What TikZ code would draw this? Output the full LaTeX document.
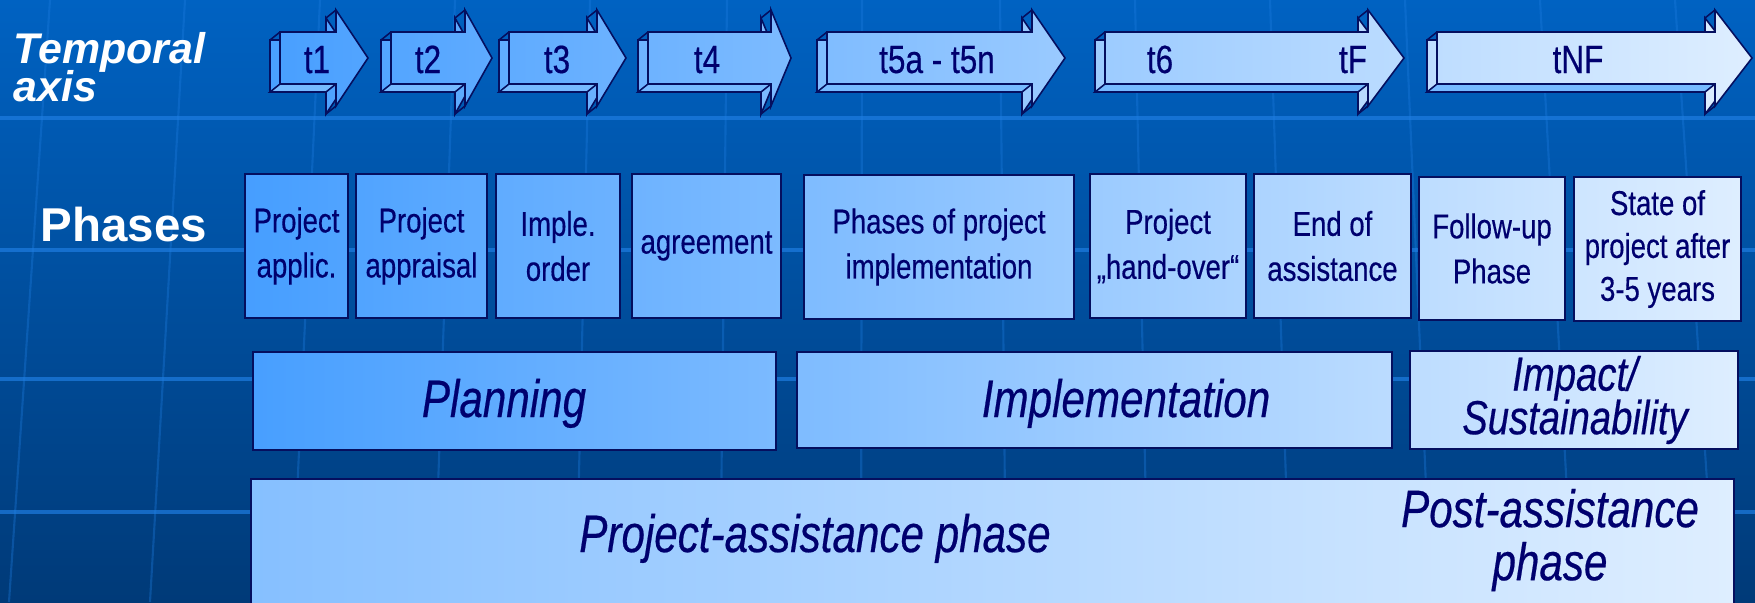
\documentclass[tikz,border=0pt]{standalone}
\usepackage{fontspec}
\setmainfont{Liberation Sans}
\newfontfamily\narrowfont[FakeStretch=0.8,FakeBold=0.4]{Liberation Sans}
\usetikzlibrary{calc}

\definecolor{bgtop}{RGB}{0,98,194}
\definecolor{bgbot}{RGB}{0,58,120}
\definecolor{gridblue}{RGB}{30,125,225}
\definecolor{lowblue}{RGB}{70,158,255}
\definecolor{highblue}{RGB}{222,238,255}
\definecolor{bevelblue}{RGB}{118,186,255}
\definecolor{navy}{RGB}{0,0,110}
\definecolor{rim}{RGB}{5,15,95}

\newcommand{\tightlines}{\setlength{\lineskiplimit}{-20pt}}

% 3d time arrow: front left x, head base x, tip x, left shade, right shade
\newcommand{\timearrow}[5]{%
  \begin{scope}[shift={(-10,8)}]
    \draw[stepface={#4}{#5}] (#1,32) -- (#2,32) -- (#2,10) -- (#3,58) -- (#2,106) -- (#2,84) -- (#1,84) -- cycle;
  \end{scope}
  \draw[rimline, fill=bevelblue] (#1,84) -- (#2,84) -- ++(-10,8) -- ++(#1-#2,0) -- cycle;
  \draw[rimline] (#1,32) -- ++(-10,8) (#2,10) -- ++(-10,8) (#2,106) -- ++(-10,8);
  \draw[stepface={#4}{#5}] (#1,32) -- (#2,32) -- (#2,10) -- (#3,58) -- (#2,106) -- (#2,84) -- (#1,84) -- cycle;
}

\begin{document}
\begin{tikzpicture}[x=0.01cm, y=-0.01cm,
  rimline/.style={draw=rim, line width=0.45pt},
  stepface/.style 2 args={rimline, left color=highblue!#1!lowblue, right color=highblue!#2!lowblue},
  tlabel/.style={anchor=base, inner sep=0pt, text=navy, font=\narrowfont\fontsize{11.2}{13}\selectfont},
  phasebox/.style={rimline, inner sep=0pt, align=center, text=navy, font=\narrowfont\fontsize{9.8}{12.8}\selectfont},
  stagetext/.style={inner sep=0pt, align=center, text=navy, font=\narrowfont\itshape\fontsize{15}{15}\selectfont},
  gridline/.style={draw=gridblue, opacity=0.35, line width=0.6pt}]

	% background
	\clip (0,0) rectangle (1755,602);
	\fill[top color=bgtop, bottom color=bgbot] (0,0) rectangle (1755,602);
	\draw[gridline] (50,0) -- (9,602) (185,0) -- (150,602) (320,0) -- (292,602) (455,0) -- (434,602)
		(590,0) -- (576,602) (727,0) -- (720,602) (862,0) -- (861,602) (1000,0) -- (1006,602)
		(1135,0) -- (1148,602) (1270,0) -- (1290,602) (1405,0) -- (1431,602) (1540,0) -- (1573,602)
		(1675,0) -- (1715,602);
	\draw[gridline, opacity=0.7, line width=0.9pt] (0,118) -- (1755,118) (0,250) -- (1755,250)
		(0,379) -- (1755,379) (0,512) -- (1755,512);

	% temporal axis
	\node[anchor=west, align=left, inner sep=0pt, text=white, font=\bfseries\itshape\fontsize{12.2}{10.8}\selectfont\tightlines] (taxis) at (13,67) {Temporal\\axis};
	\timearrow{280}{336}{368}{2}{8}
	\node[tlabel] (t1) at (317,73) {t1};
	\timearrow{391}{465}{492}{9}{16}
	\node[tlabel] (t2) at (428,73) {t2};
	\timearrow{509}{597}{626}{17}{25}
	\node[tlabel] (t3) at (557,73) {t3};
	\timearrow{648}{771}{791}{26}{36}
	\node[tlabel] (t4) at (707,73) {t4};
	\timearrow{827}{1032}{1065}{38}{55}
	\node[tlabel] (t5) at (937,73) {t5a - t5n};
	\timearrow{1105}{1368}{1404}{57}{77}
	\node[tlabel] (t6) at (1160,73) {t6};
	\node[tlabel] (tF) at (1353,73) {tF};
	\timearrow{1437}{1715}{1752}{79}{100}
	\node[tlabel] (tNF) at (1578,73) {tNF};

	% phases
	\node[anchor=base west, inner sep=0pt, text=white, font=\bfseries\fontsize{13.5}{15}\selectfont] (phases) at (40,241) {Phases};
	\node[phasebox, stepface={0}{7}, minimum width=10.3mm, minimum height=14.4mm] (applic) at (296.5,246) {Project\\applic.};
	\node[phasebox, stepface={7}{16}, minimum width=13.1mm, minimum height=14.4mm] (appraisal) at (421.5,246) {Project\\appraisal};
	\node[phasebox, stepface={17}{25}, minimum width=12.4mm, minimum height=14.4mm] (order) at (558,246) {Imple.\\order};
	\node[phasebox, stepface={26}{36}, minimum width=14.9mm, minimum height=14.4mm] (agreement) at (706.5,246) {agreement};
	\node[phasebox, stepface={37}{55}, minimum width=27.0mm, minimum height=14.4mm] (implphases) at (939,247) {Phases of project\\implementation};
	\node[phasebox, stepface={56}{67}, minimum width=15.6mm, minimum height=14.4mm] (handover) at (1168,246) {Project\\„hand-over“};
	\node[phasebox, stepface={67}{78}, minimum width=15.7mm, minimum height=14.4mm] (endassist) at (1332.5,246) {End of\\assistance};
	\node[phasebox, stepface={78}{88}, minimum width=14.6mm, minimum height=14.3mm] (followup) at (1492,248.5) {Follow-up\\Phase};
	\node[phasebox, stepface={89}{100}, minimum width=16.7mm, minimum height=14.4mm, font=\narrowfont\fontsize{9.8}{12.2}\selectfont] (stateafter) at (1657.5,249) {State of\\project after\\3-5 years};

	% stages
	\draw[stepface={1}{35}] (253,352) rectangle (776,450);
	\node[stagetext, anchor=base] (planning) at (504,417) {Planning};
	\draw[stepface={37}{77}] (797,352) rectangle (1392,448);
	\node[stagetext, anchor=base] (implementation) at (1126,417) {Implementation};
	\draw[stepface={78}{100}] (1410,351) rectangle (1738,449);
	\node[stagetext, font=\narrowfont\itshape\fontsize{13.6}{12.4}\selectfont\tightlines] (impact) at (1575,400) {Impact/\\Sustainability};

	% assistance
	\draw[stepface={42}{100}] (251,479) rectangle (1734,650);
	\node[stagetext, anchor=base] (projassist) at (815,552) {Project-assistance phase};
	\node[stagetext, font=\narrowfont\itshape\fontsize{15}{15.1}\selectfont\tightlines] (postassist) at (1550,540) {Post-assistance\\phase};
\end{tikzpicture}
\end{document}
